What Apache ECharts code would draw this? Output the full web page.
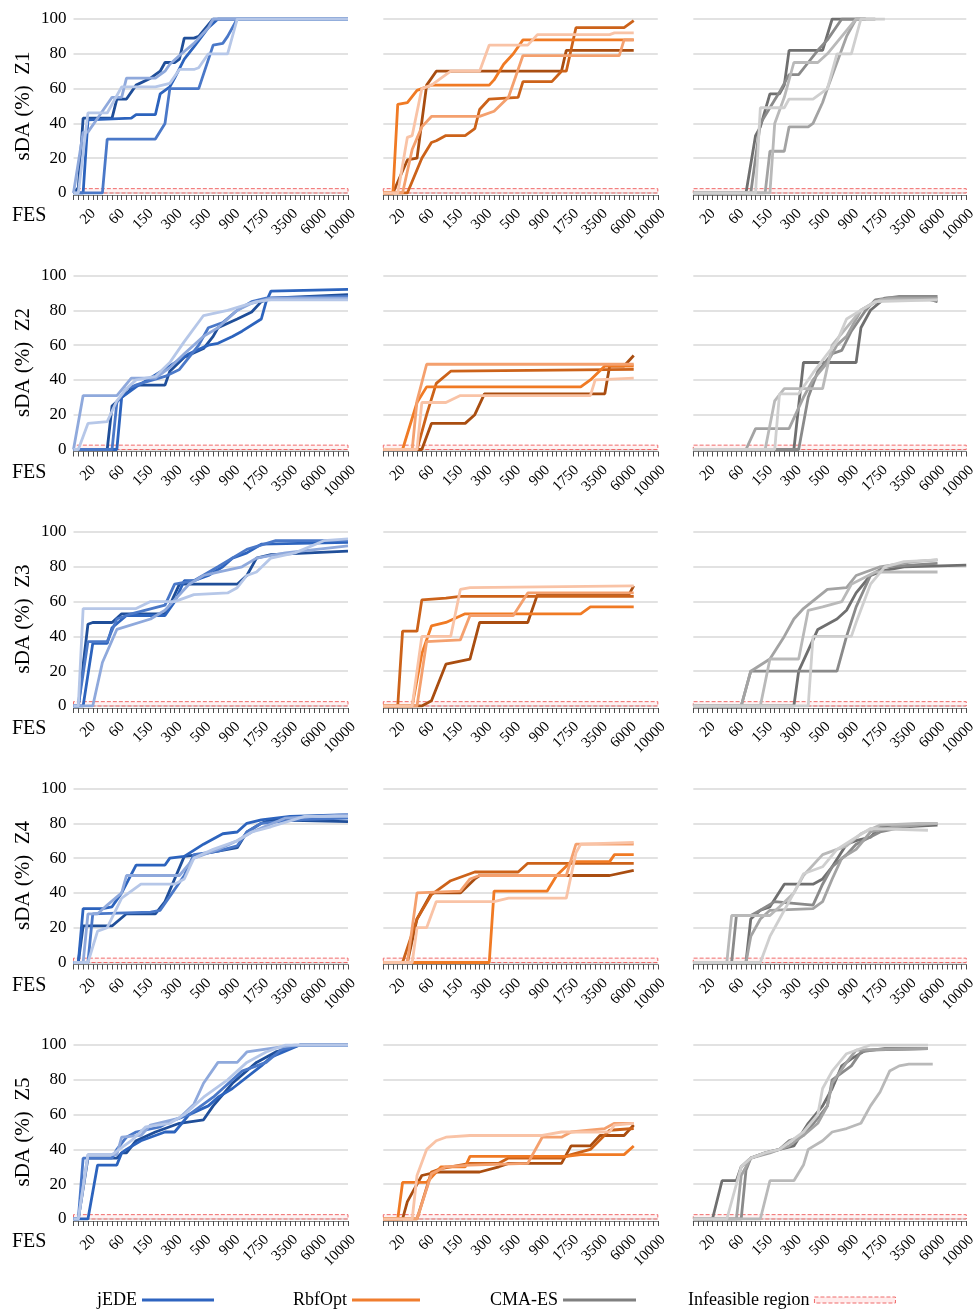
<!DOCTYPE html>
<html><head><meta charset="utf-8">
<script src="https://cdn.jsdelivr.net/npm/echarts@6/dist/echarts.min.js"></script>
<style>html,body{margin:0;padding:0;background:#fff}#c{width:979px;height:1309px}</style>
</head><body><div id="c"></div>
<script>
// FES categories (x axis), labelled ticks
const categories = ['5','10','15','20','25','30','40','45','50','60','75','90','105','120','135','150','175','200','225','250','275','300','330','365','400','435','465','500','565','630','700','765','830','900','1050','1200','1350','1500','1625','1750','2050','2350','2650','2900','3200','3500','3900','4300','4700','5100','5550','6000','6650','7300','8000','8650','9300','10000'];
const tickLabels = ['20','60','150','300','500','900','1750','3500','6000','10000'];
const zones = ['Z1','Z2','Z3','Z4','Z5'];
const algorithms = ['jEDE','RbfOpt','CMA-ES'];
const yTicks = [0,20,40,60,80,100];

// sDA (%) per run: [FES category index, value]
const jEDE_Z1 = [
 [[0,0],[1,3],[2,43],[8,43],[9,54],[11,54],[13,62],[16,66],[18,70],[19,75],[21,75],[22,77],[23,89],[25,89],[26,90],[29,100],[57,100]],
 [[0,0],[2,0],[3,42],[12,43],[13,45],[17,45],[18,57],[20,61],[21,66],[23,77],[25,84],[28,95],[30,100],[57,100]],
 [[0,0],[6,0],[7,31],[17,31],[19,40],[20,60],[26,60],[29,85],[31,86],[32,90],[34,100],[57,100]],
 [[0,0],[2,35],[3,35],[5,43],[8,55],[10,55],[11,66],[17,66],[19,70],[20,74],[22,79],[25,86],[28,95],[29,100],[57,100]],
 [[0,0],[1,0],[3,46],[7,46],[10,61],[17,61],[20,63],[22,71],[25,71],[26,72],[28,80],[32,80],[34,100],[57,100]]
];
const jEDE_Z2 = [
 [[0,0],[7,0],[8,25],[10,30],[13,37],[19,37],[20,45],[23,53],[27,58],[29,65],[30,70],[34,75],[37,79],[39,85],[41,87],[57,89]],
 [[0,0],[9,0],[10,30],[13,36],[20,48],[24,55],[28,60],[30,61],[33,65],[35,68],[39,75],[40,85],[41,91],[57,92]],
 [[0,0],[8,0],[9,27],[11,35],[14,38],[19,42],[22,46],[26,60],[28,70],[31,73],[34,80],[37,85],[40,87],[57,88]],
 [[0,0],[2,31],[9,31],[12,41],[17,41],[20,47],[23,55],[27,65],[30,70],[34,80],[37,84],[41,87],[57,87]],
 [[0,0],[1,0],[3,15],[7,16],[9,28],[11,35],[13,40],[17,42],[20,50],[23,62],[27,77],[32,80],[38,85],[41,86],[57,86]]
];
const jEDE_Z3 = [
 [[0,0],[1,0],[3,47],[4,48],[8,48],[10,53],[19,53],[20,58],[22,70],[34,70],[36,75],[38,85],[41,87],[57,89]],
 [[0,0],[2,0],[4,36],[7,36],[8,45],[11,52],[19,52],[21,60],[23,72],[25,72],[28,75],[31,80],[33,85],[36,88],[39,93],[57,94]],
 [[0,0],[1,0],[3,37],[7,37],[9,50],[12,53],[19,58],[21,70],[25,72],[30,80],[36,90],[42,95],[57,95]],
 [[0,0],[4,0],[6,25],[9,44],[16,50],[19,55],[24,70],[27,75],[30,77],[35,80],[38,85],[44,88],[57,92]],
 [[0,0],[1,0],[2,56],[13,56],[16,60],[21,60],[25,64],[32,65],[34,68],[36,75],[38,77],[41,85],[46,88],[52,95],[57,96]]
];
const jEDE_Z4 = [
 [[0,0],[1,0],[2,21],[8,21],[11,28],[17,28],[19,35],[21,48],[23,61],[26,62],[30,64],[34,66],[36,75],[39,80],[41,82],[57,81]],
 [[0,0],[1,0],[2,31],[6,31],[8,32],[10,40],[13,56],[19,56],[20,60],[23,61],[27,68],[31,74],[34,75],[36,80],[39,82],[45,84],[57,85]],
 [[0,0],[3,0],[4,28],[16,29],[18,30],[20,38],[23,50],[25,62],[30,64],[34,67],[36,75],[39,80],[46,82],[57,83]],
 [[0,0],[2,0],[3,28],[5,28],[7,33],[10,40],[11,50],[22,50],[25,60],[30,65],[34,70],[37,75],[44,83],[57,85]],
 [[0,0],[3,0],[5,18],[7,20],[10,37],[14,45],[21,45],[23,48],[25,60],[29,65],[34,70],[37,75],[41,78],[48,84],[57,84]]
];
const jEDE_Z5 = [
 [[0,0],[1,0],[3,35],[9,35],[10,38],[11,38],[13,45],[17,50],[22,55],[27,57],[29,65],[33,78],[38,90],[42,96],[47,100],[57,100]],
 [[0,0],[3,0],[5,31],[9,31],[10,38],[11,40],[14,45],[19,50],[21,50],[24,60],[28,65],[30,70],[33,75],[39,88],[41,93],[47,100],[57,100]],
 [[0,0],[1,0],[2,35],[8,35],[9,40],[11,47],[13,50],[18,53],[20,56],[24,60],[29,70],[31,75],[35,85],[40,90],[43,97],[47,100],[57,100]],
 [[0,0],[1,0],[3,37],[9,37],[10,47],[14,48],[16,54],[22,58],[25,66],[27,78],[30,90],[34,90],[36,96],[41,98],[46,100],[57,100]],
 [[0,0],[1,0],[3,37],[8,37],[12,45],[15,53],[20,55],[23,60],[27,70],[32,80],[36,90],[40,96],[44,100],[57,100]]
];
const RbfOpt_Z1 = [
 [[0,0],[2,0],[5,19],[7,20],[9,62],[11,70],[37,70],[38,82],[52,82]],
 [[0,0],[5,0],[8,20],[10,29],[11,30],[13,33],[17,33],[19,37],[20,48],[22,54],[28,55],[29,64],[35,64],[37,70],[38,70],[40,95],[50,95],[52,99]],
 [[0,0],[2,0],[3,51],[5,52],[7,59],[8,60],[10,62],[22,62],[23,65],[25,74],[27,80],[29,88],[52,88]],
 [[0,0],[4,0],[6,25],[8,38],[10,44],[20,44],[23,47],[26,55],[29,79],[49,79],[50,88],[52,88]],
 [[0,0],[3,0],[5,32],[6,33],[8,60],[10,62],[14,70],[20,70],[22,85],[30,85],[32,91],[47,91],[48,92],[52,92]]
];
const RbfOpt_Z2 = [
 [[0,0],[8,0],[10,15],[17,15],[19,20],[21,32],[46,32],[47,48],[50,48],[52,54]],
 [[0,0],[7,0],[9,20],[11,38],[14,45],[52,46]],
 [[0,0],[4,0],[7,27],[9,36],[41,36],[43,40],[46,48],[52,48]],
 [[0,0],[6,0],[7,28],[9,49],[52,49]],
 [[0,0],[7,0],[8,27],[13,27],[16,31],[43,31],[44,40],[52,41]]
];
const RbfOpt_Z3 = [
 [[0,0],[8,0],[10,3],[13,24],[18,27],[20,48],[30,48],[32,64],[51,64],[52,69]],
 [[0,0],[3,0],[4,43],[7,43],[8,61],[13,62],[16,63],[52,63]],
 [[0,0],[6,0],[8,30],[10,46],[13,48],[17,53],[41,53],[43,57],[52,57]],
 [[0,0],[7,0],[9,37],[16,38],[18,52],[27,52],[30,65],[52,65]],
 [[0,0],[6,0],[8,40],[14,40],[16,67],[18,68],[52,69]]
];
const RbfOpt_Z4 = [
 [[0,0],[5,0],[7,25],[8,30],[10,40],[16,40],[19,48],[20,50],[47,50],[52,53]],
 [[0,0],[4,0],[7,25],[10,39],[14,47],[19,52],[28,52],[30,57],[52,57]],
 [[0,0],[22,0],[23,41],[34,41],[36,50],[39,58],[47,58],[48,62],[52,62]],
 [[0,0],[5,0],[7,40],[16,41],[18,48],[20,50],[38,50],[40,68],[52,68]],
 [[0,0],[6,0],[7,20],[9,20],[11,35],[23,35],[26,37],[38,37],[40,63],[41,68],[52,69]]
];
const RbfOpt_Z5 = [
 [[0,0],[4,0],[5,10],[8,25],[11,27],[20,27],[24,30],[26,32],[37,32],[39,42],[43,42],[45,48],[50,48],[52,54]],
 [[0,0],[7,0],[10,27],[12,29],[18,32],[24,32],[26,35],[37,35],[39,37],[43,40],[47,51],[52,52]],
 [[0,0],[3,0],[4,21],[9,21],[10,24],[12,30],[17,30],[18,36],[38,36],[41,37],[50,37],[52,42]],
 [[0,0],[7,0],[10,26],[13,30],[18,31],[30,32],[33,47],[37,47],[39,50],[46,52],[48,55],[52,55]],
 [[0,0],[6,0],[7,25],[9,40],[11,45],[13,47],[18,48],[33,48],[37,50],[47,50],[48,54],[52,55]]
];
const CMAES_Z1 = [
 [[0,0],[11,0],[13,33],[14,38],[16,57],[18,57],[19,62],[20,82],[27,82],[29,100],[36,100]],
 [[0,0],[12,0],[14,40],[18,58],[20,68],[22,68],[24,75],[26,82],[28,88],[31,100],[36,100]],
 [[0,0],[15,0],[16,24],[19,24],[20,38],[24,38],[25,40],[27,52],[28,60],[30,75],[32,90],[34,100],[38,100]],
 [[0,0],[16,0],[17,40],[19,55],[21,75],[26,75],[28,80],[31,90],[34,100],[38,100]],
 [[0,0],[13,0],[14,49],[19,49],[20,54],[25,54],[28,60],[30,80],[33,80],[35,100],[40,100]]
];
const CMAES_Z2 = [
 [[0,0],[21,0],[23,50],[34,50],[35,70],[37,80],[40,87],[47,88],[51,85]],
 [[0,0],[22,0],[24,30],[26,45],[29,55],[31,57],[33,68],[36,80],[38,86],[43,88],[51,88]],
 [[0,0],[11,0],[13,12],[20,12],[23,30],[25,40],[28,50],[30,60],[32,65],[35,80],[38,85],[41,87],[51,87]],
 [[0,0],[15,0],[17,28],[19,35],[27,35],[29,60],[32,70],[35,80],[39,86],[51,86]],
 [[0,0],[17,0],[18,32],[22,32],[25,44],[28,55],[30,62],[32,75],[35,80],[38,85],[51,86]]
];
const CMAES_Z3 = [
 [[0,0],[21,0],[22,20],[26,44],[30,50],[32,55],[34,65],[37,75],[40,78],[44,80],[57,81]],
 [[0,0],[10,0],[12,20],[30,20],[32,40],[34,57],[37,75],[40,80],[51,82]],
 [[0,0],[10,0],[12,20],[16,27],[19,40],[21,50],[23,56],[28,67],[32,68],[34,75],[39,80],[46,83],[51,84]],
 [[0,0],[14,0],[16,27],[22,27],[24,55],[27,57],[31,60],[33,70],[38,77],[51,77]],
 [[0,0],[24,0],[25,40],[33,40],[34,48],[37,70],[40,80],[44,83],[51,84]]
];
const CMAES_Z4 = [
 [[0,0],[11,0],[12,25],[14,30],[16,32],[19,45],[25,45],[27,48],[29,55],[32,68],[34,70],[37,72],[39,78],[44,78],[51,79]],
 [[0,0],[8,0],[9,27],[12,27],[14,30],[17,35],[25,33],[27,45],[29,55],[32,62],[34,68],[39,75],[44,78],[49,80]],
 [[0,0],[11,0],[12,15],[14,25],[16,30],[25,31],[27,35],[29,48],[31,60],[34,65],[37,75],[42,78],[51,80]],
 [[0,0],[7,0],[8,27],[16,27],[18,32],[21,40],[23,50],[27,62],[29,64],[32,67],[35,74],[39,79],[47,80],[51,80]],
 [[0,0],[14,0],[16,15],[18,25],[21,40],[23,51],[27,55],[30,65],[34,72],[37,77],[49,76]]
];
const CMAES_Z5 = [
 [[0,0],[4,0],[6,22],[9,22],[10,30],[12,35],[15,38],[18,40],[21,42],[24,55],[27,65],[29,75],[31,88],[33,92],[36,97],[49,98]],
 [[0,0],[10,0],[11,28],[12,35],[15,38],[18,40],[20,45],[23,48],[26,58],[28,65],[29,80],[33,88],[35,96],[40,98],[49,98]],
 [[0,0],[9,0],[10,25],[12,35],[16,38],[20,42],[23,48],[26,55],[28,65],[29,78],[32,90],[34,97],[49,98]],
 [[0,0],[14,0],[16,22],[21,22],[23,31],[24,40],[27,45],[29,50],[32,52],[35,55],[37,65],[39,73],[41,85],[43,88],[45,89],[50,89]],
 [[0,0],[7,0],[9,20],[10,30],[12,35],[15,38],[18,40],[23,50],[26,60],[27,75],[29,85],[32,95],[37,100],[49,100]]
];
// infeasible region (sDA range)
const infeasibleRange = [0, 2.5];

const runs = [
  [jEDE_Z1, jEDE_Z2, jEDE_Z3, jEDE_Z4, jEDE_Z5],
  [RbfOpt_Z1, RbfOpt_Z2, RbfOpt_Z3, RbfOpt_Z4, RbfOpt_Z5],
  [CMAES_Z1, CMAES_Z2, CMAES_Z3, CMAES_Z4, CMAES_Z5]
];
const palettes = [
  ['#1f4e99','#2c63bd','#4a78c8','#8fa9dc','#b6c7e8'],
  ['#a94d10','#cc6219','#f07a24','#f4a06e','#f9c3a6'],
  ['#6f6f6f','#8a8a8a','#a3a3a3','#b9b9b9','#cfcfcf']
];
const legendColors = ['#2e64c0','#f07d2e','#808080'];

const FONT = '"Liberation Serif", "DejaVu Serif", serif';
const colLeft = [73.5, 383.3, 693.3];
const gridW = 274.5;
const rowTop = [19, 275.5, 532, 788.5, 1045];
const gridH = 174;

const grids = [], xAxes = [], yAxes = [], series = [], graphics = [];
for (let r = 0; r < 5; r++) {
  for (let c = 0; c < 3; c++) {
    const g = r * 3 + c;
    grids.push({left: colLeft[c], top: rowTop[r], width: gridW, height: gridH, containLabel: false});
    xAxes.push({
      type: 'category', gridIndex: g, data: categories, boundaryGap: false, offset: 2,
      axisLine: {show: true, onZero: false, lineStyle: {color: '#7f7f7f', width: 1}},
      axisTick: {show: true, interval: 0, length: 5, lineStyle: {color: '#4d4d4d', width: 1}},
      axisLabel: {
        interval: (i, v) => tickLabels.indexOf(v) >= 0,
        rotate: 45, margin: 11, verticalAlign: 'top', align: 'right',
        fontFamily: FONT, fontSize: 15, color: '#000'
      },
      splitLine: {show: false}
    });
    yAxes.push({
      type: 'value', gridIndex: g, min: yTicks[0], max: yTicks[yTicks.length - 1], interval: 20,
      axisLine: {show: false}, axisTick: {show: false},
      axisLabel: {show: c === 0, fontFamily: FONT, fontSize: 17, color: '#000', margin: 7},
      splitLine: {show: true, lineStyle: {color: '#d9d9d9', width: 1.5}},
      name: c === 0 ? 'sDA (%)  ' + zones[r] : '',
      nameLocation: 'middle', nameGap: 40, nameRotate: 90,
      nameTextStyle: {fontFamily: FONT, fontSize: 21, color: '#000'}
    });
    const set = runs[c][r];
    set.forEach((d, k) => {
      const s = {
        type: 'line', name: algorithms[c] + ' ' + zones[r] + ' run ' + (k + 1),
        xAxisIndex: g, yAxisIndex: g, data: d, showSymbol: false, symbol: 'none',
        animation: false, z: 3,
        lineStyle: {width: 2.8, color: palettes[c][k]}, itemStyle: {color: palettes[c][k]}
      };
      if (k === 0) {
        s.markArea = {
          silent: true,
          itemStyle: {color: 'rgba(255,140,140,0.10)', borderColor: '#f06a6a', borderWidth: 1, borderType: 'dashed'},
          data: [[{yAxis: infeasibleRange[0]}, {yAxis: infeasibleRange[1]}]]
        };
      }
      series.push(s);
    });
    if (c === 0) {
      graphics.push({type: 'text', left: 12, top: rowTop[r] + gridH + 13,
        style: {text: 'FES', font: '20px ' + FONT, fill: '#000'}});
    }
  }
}
// legend helper series
const legendNames = ['jEDE', 'RbfOpt', 'CMA-ES', 'Infeasible region'];
legendNames.forEach((n, i) => {
  series.push({type: 'line', name: n, xAxisIndex: 0, yAxisIndex: 0, data: [], symbol: 'none',
    lineStyle: {color: i < 3 ? legendColors[i] : '#f06a6a'}, itemStyle: {color: i < 3 ? legendColors[i] : '#f06a6a'}});
});
const legendLeft = [97, 293, 490, 688];
const legendW = [72, 68, 73, 81];
const legends = legendNames.map((n, i) => ({
  data: [i < 3 ? {name: n, icon: 'rect'} : {name: n, icon: 'rect',
    itemStyle: {color: 'rgba(255,200,200,0.35)', borderColor: '#f06a6a', borderWidth: 1, borderType: 'dashed'}}],
  left: legendLeft[i], top: 1291, align: 'right', orient: 'horizontal', padding: 0,
  itemWidth: legendW[i], itemHeight: i < 3 ? 3 : 6, selectedMode: false,
  textStyle: {fontFamily: FONT, fontSize: 18, color: '#000'}
}));

const chart = echarts.init(document.getElementById('c'), null, {renderer: 'canvas'});
chart.setOption({
  animation: false,
  backgroundColor: '#fff',
  grid: grids, xAxis: xAxes, yAxis: yAxes, series: series,
  legend: legends, graphic: graphics
});
</script></body></html>
